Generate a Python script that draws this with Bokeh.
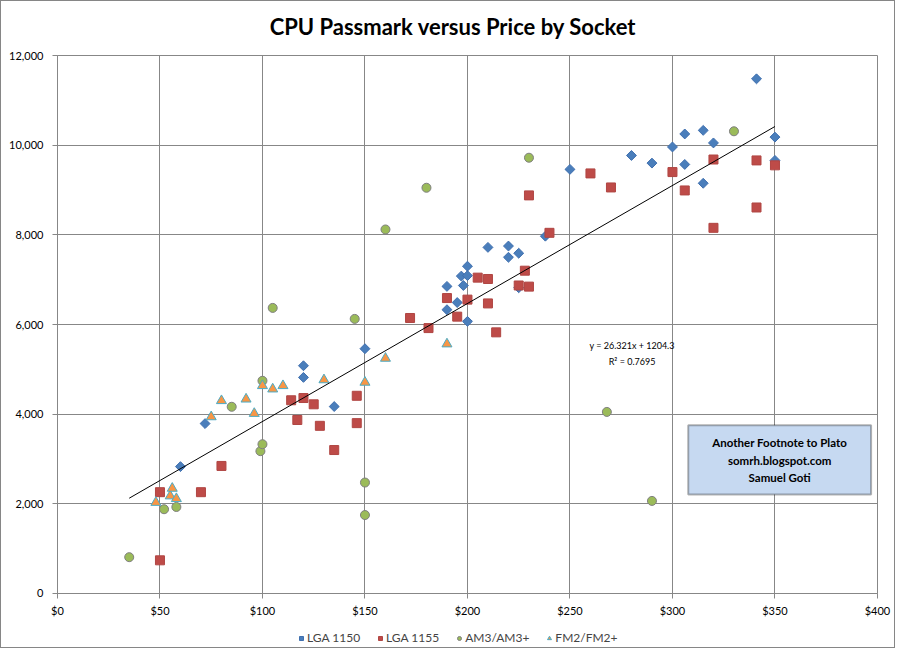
import numpy as np
from bokeh.plotting import figure
from bokeh.models import (Range1d, NumeralTickFormatter, FixedTicker, Legend, LegendItem,
                          BoxAnnotation, Label)
from bokeh.embed import file_html
from bokeh.resources import INLINE

# ---------------- data ----------------
lga1150_price = [60, 72, 120, 120, 135, 150, 190, 190, 195, 197, 198, 200, 200, 200,
                 210, 220, 220, 225, 225, 238, 250, 280, 290, 300, 306, 306, 315, 315,
                 320, 341, 350, 350]
lga1150_mark = [2830, 3790, 5080, 4820, 4170, 5460, 6850, 6330, 6490, 7080, 6870, 7300, 7090, 6070,
                7720, 7750, 7500, 7590, 6820, 7970, 9460, 9770, 9600, 9960, 10250, 9570, 10330, 9150,
                10050, 11480, 10180, 9660]

lga1155_price = [50, 50, 70, 80, 114, 117, 120, 125, 128, 135, 146, 146, 172, 181, 190, 195,
                 200, 205, 210, 210, 214, 225, 228, 230, 230, 240, 260, 270, 300, 306, 320,
                 320, 341, 341, 350]
lga1155_mark = [2260, 740, 2260, 2845, 4310, 3870, 4360, 4220, 3740, 3200, 4410, 3800, 6145, 5920, 6590, 6175,
                6555, 7045, 7015, 6470, 5825, 6870, 7200, 6845, 8880, 8045, 9370, 9057, 9400, 8990, 9680,
                8156, 9660, 8610, 9550]

am3_price = [35, 52, 58, 85, 99, 100, 100, 105, 145, 150, 150, 160, 180, 230, 268, 290, 330]
am3_mark = [810, 1880, 1930, 4165, 3175, 3330, 4745, 6370, 6125, 2475, 1750, 8120, 9050, 9720,
            4050, 2065, 10310]

fm2_price = [48, 55, 56, 58, 75, 80, 92, 96, 100, 105, 110, 130, 150, 160, 190]
fm2_mark = [2030, 2175, 2345, 2115, 3940, 4300, 4335, 4015, 4635, 4560, 4635, 4765, 4710, 5245, 5565]

trend_slope = 26.321
trend_intercept = 1204.3

x_ticks = [0, 50, 100, 150, 200, 250, 300, 350, 400]
y_ticks = [0, 2000, 4000, 6000, 8000, 10000, 12000]

title_text = "CPU Passmark versus Price by Socket"
equation_text = "y = 26.321x + 1204.3"
r2_text = "R\u00b2 = 0.7695"
note_lines = ["Another Footnote to Plato", "somrh.blogspot.com", "Samuel Goti"]

FONT = "Lato"
GRID = "#878787"

# The frame covers the whole chart so that title, axis labels and legend all sit inside it;
# both axes are pinned at zero.
p = figure(frame_width=890, frame_height=646,
           min_border_left=0, min_border_right=3, min_border_top=0, min_border_bottom=0,
           x_range=Range1d(-27.3, 406.85), y_range=Range1d(-1204.5, 13204.5),
           output_backend="svg", toolbar_location=None)
p.background_fill_color = "white"
p.border_fill_color = "white"
p.outline_line_color = None
p.styles = {"border": "1px solid #868686"}

for ax in (p.xaxis[0], p.yaxis[0]):
    ax.axis_label = None
    ax.axis_label_standoff = 0
    ax.axis_line_color = GRID
    ax.major_tick_line_color = GRID
    ax.major_tick_out = 5
    ax.major_tick_in = 0
    ax.minor_tick_line_color = None
    ax.major_label_text_font = FONT
    ax.major_label_text_font_size = "11px"
    ax.major_label_text_color = "#000000"

p.xaxis.fixed_location = 0
p.yaxis.fixed_location = 0
p.xaxis.bounds = (0, 400)
p.yaxis.bounds = (0, 12000)
p.xaxis.ticker = FixedTicker(ticks=x_ticks)
p.yaxis.ticker = FixedTicker(ticks=y_ticks)
p.xaxis.formatter = NumeralTickFormatter(format="$0")
p.yaxis.formatter = NumeralTickFormatter(format="0,0")
p.xaxis.major_label_standoff = 6
p.yaxis.major_label_standoff = 9

p.xgrid.grid_line_color = GRID
p.ygrid.grid_line_color = GRID
p.xgrid.ticker = FixedTicker(ticks=x_ticks)
p.ygrid.ticker = FixedTicker(ticks=y_ticks)
p.xgrid.bounds = (0, 400)
p.ygrid.bounds = (0, 12000)
# keep grid lines inside the plotting area
try:
    p.xgrid[0].cross_bounds = (0, 12000)
    p.ygrid[0].cross_bounds = (0, 400)
except Exception:
    pass

r1 = p.scatter(lga1150_price, lga1150_mark, marker="square", angle=np.pi / 4, size=7,
               fill_color="#4A7EBB", line_color="#3F6FAF")
r2 = p.scatter(lga1155_price, lga1155_mark, marker="square", size=9,
               fill_color="#BE4B48", line_color="#B04643")
r3 = p.scatter(am3_price, am3_mark, marker="circle", size=9,
               fill_color="#9BBB59", line_color="#7F7F7F")
r4 = p.scatter(fm2_price, fm2_mark, marker="triangle", size=10,
               fill_color="#F79646", line_color="#4BACC6")

all_price = np.array(lga1150_price + lga1155_price + am3_price + fm2_price, dtype=float)
tx = np.array([all_price.min(), all_price.max()])
p.line(tx, trend_slope * tx + trend_intercept, line_color="black", line_width=1)

p.add_layout(Label(x=280.3, y=5532, text=equation_text, text_align="center", text_baseline="middle",
                   text_font=FONT, text_font_size="9px", text_color="#000000"))
p.add_layout(Label(x=280.3, y=5175, text=r2_text, text_align="center", text_baseline="middle",
                   text_font=FONT, text_font_size="9px", text_color="#000000"))

p.add_layout(BoxAnnotation(left=307.7, right=396.9, top=3754, bottom=2208,
                           fill_color="#C6D9F1", fill_alpha=1.0, line_color="black", line_width=2))
for txt, yy in zip(note_lines, [3368, 2967, 2588]):
    p.add_layout(Label(x=352.3, y=yy, text=txt, text_align="center", text_baseline="middle",
                       text_font=FONT, text_font_size="11.5px", text_font_style="bold",
                       text_color="#000000"))

# chart title
p.add_layout(Label(x=193.0, y=12647, text=title_text, text_align="center", text_baseline="middle",
                   text_font=FONT, text_font_size="22px", text_font_style="bold",
                   text_color="#000000"))

legend = Legend(items=[LegendItem(label="LGA 1150", renderers=[r1]),
                       LegendItem(label="LGA 1155", renderers=[r2]),
                       LegendItem(label="AM3/AM3+", renderers=[r3]),
                       LegendItem(label="FM2/FM2+", renderers=[r4])],
                orientation="horizontal", location=(295, 2),
                label_text_font=FONT, label_text_font_size="12px", label_height=14,
                glyph_width=10, glyph_height=12, label_standoff=1, spacing=15,
                margin=0, padding=2, border_line_color=None, background_fill_alpha=0)
p.add_layout(legend, "center")

open("out.html", "w").write(file_html(p, INLINE))
